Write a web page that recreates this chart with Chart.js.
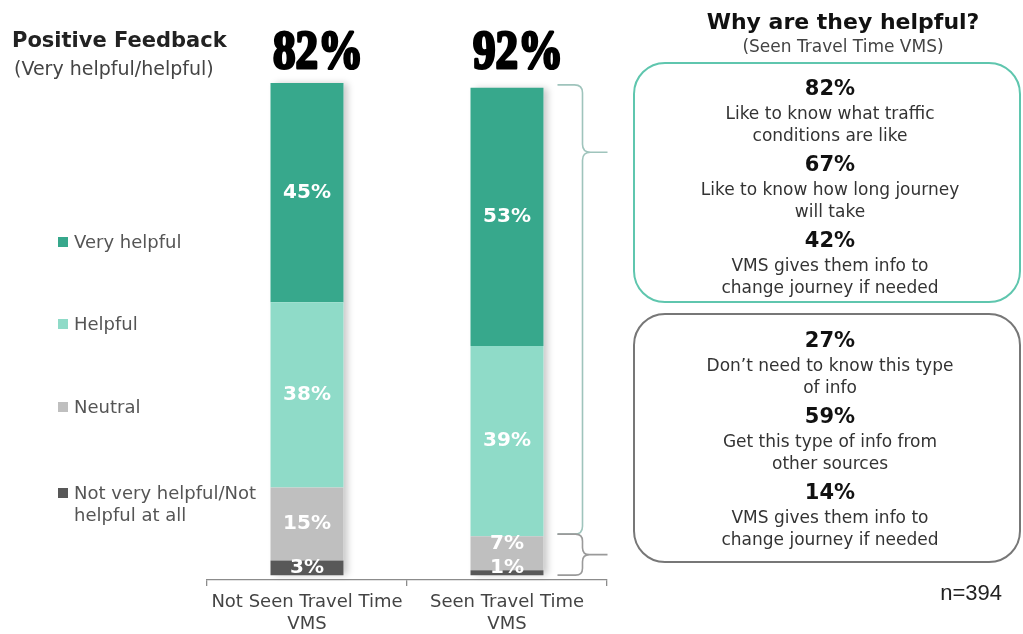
<!DOCTYPE html>
<html><head><meta charset="utf-8">
<script src="https://cdn.jsdelivr.net/npm/chart.js@4.4.1/dist/chart.umd.min.js"></script>
<style>
html,body{margin:0;padding:0;background:#fff;}
#wrap{position:relative;width:1023px;height:634px;overflow:hidden;font-family:"DejaVu Sans",sans-serif;}
canvas{position:absolute;left:0;top:0;}
.t{position:absolute;white-space:nowrap;}
.box{position:absolute;box-sizing:border-box;border-radius:32px;}
</style></head><body>
<div id="wrap"><canvas id="c" width="1023" height="634"></canvas></div>
<script>
// ---- data ----
const categories = [['Not Seen Travel Time','VMS'],['Seen Travel Time','VMS']];
const seriesNames = ['Not very helpful/Not helpful at all','Neutral','Helpful','Very helpful'];
const notVeryHelpful = [3,1];
const neutral = [15,7];
const helpful = [38,39];
const veryHelpful = [45,53];
const positiveFeedback = [82,92];
const helpfulPct = [82,67,42];
const helpfulReasons = [['Like to know what traffic','conditions are like'],['Like to know how long journey','will take'],['VMS gives them info to','change journey if needed']];
const unhelpfulPct = [27,59,14];
const unhelpfulReasons = [['Don\u2019t need to know this type','of info'],['Get this type of info from','other sources'],['VMS gives them info to','change journey if needed']];
const sampleSize = 394;

const seriesColors = ['#585858','#bfbfbf','#8fdbc8','#37a88c'];

const shadowPlugin = {
  id:'barShadow',
  beforeDatasetsDraw(c){
    const ctx=c.ctx; const last=c.data.datasets.length-1;
    c.data.labels.forEach((_,i)=>{
      const top=c.getDatasetMeta(last).data[i], bot=c.getDatasetMeta(0).data[i];
      ctx.save();
      ctx.shadowColor='rgba(0,0,0,0.22)'; ctx.shadowBlur=7; ctx.shadowOffsetX=4;
      ctx.fillStyle='#fff';
      ctx.fillRect(top.x-top.width/2, top.y, top.width, bot.base-top.y);
      ctx.restore();
    });
  }
};

const valueLabels = {
  id:'valueLabels',
  afterDatasetsDraw(c){
    const ctx=c.ctx; ctx.save();
    ctx.fillStyle='#fff'; ctx.font='bold 20px "DejaVu Sans"';
    ctx.textAlign='center'; ctx.textBaseline='middle';
    c.data.labels.forEach((_,i)=>{
      let prev=null;
      c.data.datasets.forEach((ds,d)=>{
        const el=c.getDatasetMeta(d).data[i];
        let y=(el.y+el.base)/2;
        if(prev===null) y=Math.min(y, el.base-7); else y=Math.min(y, prev-24);
        prev=y;
        ctx.fillText(ds.data[i]+'%', el.x, y);
      });
    });
    ctx.restore();
  }
};

const headline = {
  id:'headline',
  afterDraw(c){
    const ctx=c.ctx; const last=c.data.datasets.length-1;
    positiveFeedback.forEach((v,i)=>{
      const el=c.getDatasetMeta(last).data[i];
      ctx.save();
      ctx.translate(el.x+11, 68);
      ctx.scale(0.82,1);
      ctx.font='bold 55px "Liberation Sans Narrow"';
      ctx.textAlign='center'; ctx.textBaseline='alphabetic';
      ctx.fillStyle='#000'; ctx.strokeStyle='#000'; ctx.lineWidth=3; ctx.lineJoin='round';
      ctx.strokeText(v+'%',0,0); ctx.fillText(v+'%',0,0);
      ctx.restore();
    });
  }
};

function brace(ctx, x0, xv, xt, yTop, yTip, yBot, r, color){
  ctx.save(); ctx.strokeStyle=color; ctx.lineWidth=1.6; ctx.beginPath();
  ctx.moveTo(x0,yTop); ctx.lineTo(xv-r,yTop); ctx.quadraticCurveTo(xv,yTop,xv,yTop+r);
  ctx.lineTo(xv,yTip-r); ctx.quadraticCurveTo(xv,yTip,xv+r,yTip); ctx.lineTo(xt,yTip);
  ctx.moveTo(xv+r,yTip); ctx.quadraticCurveTo(xv,yTip,xv,yTip+r);
  ctx.lineTo(xv,yBot-r); ctx.quadraticCurveTo(xv,yBot,xv-r,yBot); ctx.lineTo(x0,yBot);
  ctx.stroke(); ctx.restore();
}
const braces = {
  id:'braces',
  afterDraw(c){
    const ctx=c.ctx; const i=1;
    const vh=c.getDatasetMeta(3).data[i], h=c.getDatasetMeta(2).data[i], nv=c.getDatasetMeta(0).data[i];
    const right=vh.x+vh.width/2;
    const yTop=vh.y-3, yMid=h.base-2, yBot=nv.base;
    brace(ctx, right+14, right+39, right+64, yTop, yTop+(yMid-yTop)*0.15, yMid, 8, '#9fc4bc');
    brace(ctx, right+14, right+39, right+64, yMid, (yMid+yBot)/2, yBot, 7, '#9a9a9a');
  }
};

const chart = new Chart(document.getElementById('c').getContext('2d'), {
  type:'bar',
  data:{
    labels:categories,
    datasets:[
      {label:seriesNames[0], data:notVeryHelpful, backgroundColor:seriesColors[0]},
      {label:seriesNames[1], data:neutral, backgroundColor:seriesColors[1]},
      {label:seriesNames[2], data:helpful, backgroundColor:seriesColors[2]},
      {label:seriesNames[3], data:veryHelpful, backgroundColor:seriesColors[3]}
    ]
  },
  options:{
    responsive:false, animation:false, devicePixelRatio:1,
    layout:{padding:{left:207,right:416,top:83,bottom:0}},
    plugins:{legend:{display:false}, tooltip:{enabled:false}},
    datasets:{bar:{barPercentage:0.73, categoryPercentage:0.5, borderWidth:0}},
    scales:{
      x:{stacked:true, offset:true,
         grid:{display:true, drawOnChartArea:false, drawTicks:true, tickLength:6, color:'#8c8c8c', offset:true, lineWidth:1.3},
         border:{display:true, color:'#8c8c8c', width:1.3},
         ticks:{color:'#444', font:{family:'DejaVu Sans', size:18, lineHeight:1.2}, padding:6, maxRotation:0, autoSkip:false},
         afterFit:(s)=>{s.height=54;}},
      y:{stacked:true, display:false, min:-1, max:101}
    }
  },
  plugins:[shadowPlugin, valueLabels, headline, braces]
});

// ---- HTML text ----
const wrap=document.getElementById('wrap');
function addText(txt, x, yc, font, color, align, lh){
  const d=document.createElement('div'); d.className='t'; d.textContent=txt;
  d.style.font=font; d.style.color=color; d.style.lineHeight=lh+'px'; d.style.height=lh+'px';
  d.style.top=(yc-lh/2)+'px';
  if(align==='center'){ d.style.left=(x-300)+'px'; d.style.width='600px'; d.style.textAlign='center'; }
  else if(align==='right'){ d.style.right=(1023-x)+'px'; d.style.textAlign='right'; }
  else d.style.left=x+'px';
  wrap.appendChild(d); return d;
}
function addBox(left, top, w, h, color){
  const d=document.createElement('div'); d.className='box';
  Object.assign(d.style,{left:left+'px',top:top+'px',width:w+'px',height:h+'px',border:'2px solid '+color});
  wrap.appendChild(d);
}

addText('Positive Feedback', 12, 40, 'bold 21px "DejaVu Sans"', '#222', 'left', 26);
addText('(Very helpful/helpful)', 14, 68, '19px "DejaVu Sans"', '#444', 'left', 24);

// legend (top to bottom = stack top to bottom)
const legendY=[242,324,407,493];
[3,2,1,0].forEach((d,k)=>{
  const ds=chart.data.datasets[d];
  const sq=document.createElement('div');
  Object.assign(sq.style,{position:'absolute',left:'58px',top:(legendY[k]-5)+'px',width:'10px',height:'10px',background:ds.backgroundColor});
  wrap.appendChild(sq);
  const parts = d===0 ? ['Not very helpful/Not','helpful at all'] : [ds.label];
  parts.forEach((p,j)=>addText(p, 74, legendY[k]+j*22, '18px "DejaVu Sans"', '#555', 'left', 22));
});

// right panel
addText('Why are they helpful?', 843, 22, 'bold 22px "DejaVu Sans"', '#111', 'center', 28);
addText('(Seen Travel Time VMS)', 843, 46, '17px "DejaVu Sans"', '#444', 'center', 22);
addBox(633, 62, 388, 241, '#5fc6ae');
addBox(633, 313, 388, 250, '#777');
const cx=830;
helpfulPct.forEach((p,i)=>{
  const y0=88+i*76;
  addText(p+'%', cx, y0, 'bold 21px "DejaVu Sans"', '#111', 'center', 26);
  helpfulReasons[i].forEach((l,j)=>addText(l, cx, y0+25+j*22, '17px "DejaVu Sans"', '#333', 'center', 22));
});
unhelpfulPct.forEach((p,i)=>{
  const y0=340+i*76;
  addText(p+'%', cx, y0, 'bold 21px "DejaVu Sans"', '#111', 'center', 26);
  unhelpfulReasons[i].forEach((l,j)=>addText(l, cx, y0+25+j*22, '17px "DejaVu Sans"', '#333', 'center', 22));
});
addText('n='+sampleSize, 1002, 593, '22px "Liberation Sans"', '#222', 'right', 26);
</script>
</body></html>
